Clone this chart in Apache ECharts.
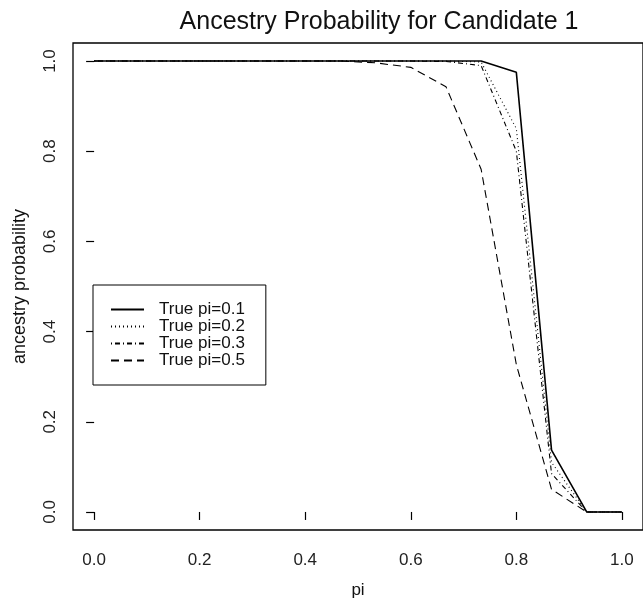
<!DOCTYPE html>
<html>
<head>
<meta charset="utf-8">
<script src="https://cdn.jsdelivr.net/npm/echarts@6/dist/echarts.min.js"></script>
<style>
html,body{margin:0;padding:0;background:#fff;}
#chart{width:643px;height:604px;}
</style>
</head>
<body>
<div id="chart"></div>
<script>
const piValues = [0, 0.0667, 0.1333, 0.2, 0.2667, 0.3333, 0.4, 0.4667, 0.5333, 0.6, 0.6667, 0.7333, 0.8, 0.8667, 0.9333, 1.0];
const truePi01 = [1, 1, 1, 1, 1, 1, 1, 1, 1, 1, 1, 1.0, 0.975, 0.137, 0, 0];
const truePi02 = [1, 1, 1, 1, 1, 1, 1, 1, 1, 1, 1, 0.998, 0.85, 0.11, 0, 0];
const truePi03 = [1, 1, 1, 1, 1, 1, 1, 1, 1, 1, 0.999, 0.99, 0.80, 0.085, 0, 0];
const truePi05 = [1, 1, 1, 1, 1, 1, 1, 1, 0.996, 0.986, 0.943, 0.76, 0.327, 0.05, 0, 0];
const seriesNames = ['True pi=0.1', 'True pi=0.2', 'True pi=0.3', 'True pi=0.5'];
const tickValues = [0, 0.2, 0.4, 0.6, 0.8, 1.0];

const chart = echarts.init(document.getElementById('chart'), null, {renderer: 'canvas'});
const font = '"Liberation Sans", Arial, Helvetica, sans-serif';
function pairs(ys) { return piValues.map((x, i) => [x, ys[i]]); }
const styles = [
  {width: 1.6, type: 'solid', color: '#000'},
  {width: 1.1, type: [1, 3], color: '#000'},
  {width: 1.1, type: [1, 3, 5, 3], color: '#000'},
  {width: 1.1, type: [8, 5], color: '#000'}
];
const allData = [truePi01, truePi02, truePi03, truePi05];

chart.setOption({
  animation: false,
  backgroundColor: '#fff',
  title: {
    text: 'Ancestry Probability for Candidate 1',
    left: 374, top: 5, textAlign: 'center',
    textStyle: {fontFamily: font, fontSize: 25, fontWeight: 'normal', color: '#111'}
  },
  grid: {left: 73, top: 43, width: 573, height: 490, show: true, borderColor: '#000', borderWidth: 1.3, backgroundColor: 'transparent'},
  legend: {
    orient: 'vertical', left: 93, top: 285,
    data: seriesNames,
    padding: [16, 21, 16, 17],
    borderColor: '#000', borderWidth: 1, backgroundColor: '#fff',
    itemWidth: 33, itemHeight: 14, itemGap: 0,
    itemStyle: {opacity: 0},
    textStyle: {fontFamily: font, fontSize: 17, color: '#111', lineHeight: 17, padding: [0, 0, 0, 10]},
    selectedMode: false
  },
  xAxis: {
    type: 'value', min: -0.04, max: 1.04,
    name: 'pi', nameLocation: 'middle', nameGap: 52,
    nameTextStyle: {fontFamily: font, fontSize: 17, color: '#111'},
    axisLine: {show: false},
    splitLine: {show: false},
    axisTick: {show: true, customValues: tickValues, length: 8, lineStyle: {color: '#000', width: 1.2}},
    axisLabel: {customValues: tickValues, fontFamily: font, fontSize: 17, color: '#222', margin: 22,
      formatter: v => v.toFixed(1)}
  },
  yAxis: {
    type: 'value', min: -0.04, max: 1.04,
    name: 'ancestry probability', nameLocation: 'middle', nameGap: 44,
    nameTextStyle: {fontFamily: font, fontSize: 18, color: '#111'},
    axisLine: {show: false},
    splitLine: {show: false},
    axisTick: {show: true, customValues: tickValues, length: 8, lineStyle: {color: '#000', width: 1.2}},
    axisLabel: {customValues: tickValues, rotate: 90, fontFamily: font, fontSize: 17, color: '#222', margin: 14,
      formatter: v => v.toFixed(1)}
  },
  series: allData.map((d, i) => ({
    name: seriesNames[i], type: 'line', data: pairs(d),
    symbol: 'none', showSymbol: false,
    lineStyle: styles[i], itemStyle: {color: '#000'},
    emphasis: {disabled: true}, silent: true
  }))
});
</script>
</body>
</html>
